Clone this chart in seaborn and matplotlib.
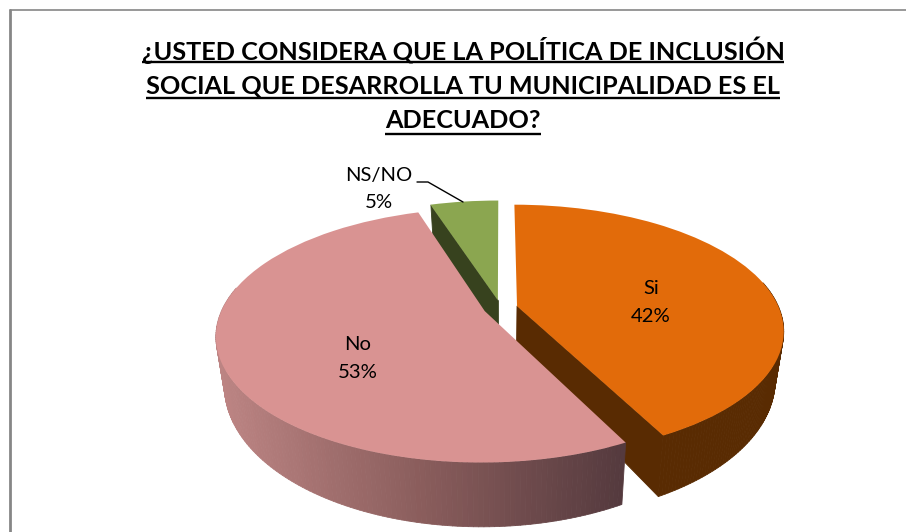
import numpy as np
import matplotlib
matplotlib.use("Agg")
import matplotlib.pyplot as plt
from matplotlib.collections import PolyCollection
from matplotlib.transforms import Transform
import seaborn as sns

categories = ["Si", "No", "NS/NO"]
shares = [42.49, 52.51, 5.0]
title_lines = ["¿USTED CONSIDERA QUE LA POLÍTICA DE INCLUSIÓN",
               "SOCIAL QUE DESARROLLA TU MUNICIPALIDAD ES EL",
               "ADECUADO?"]

top_colors = ["#E26B0A", "#D99392", "#8BA650"]
wall_colors = ["#592B02", None, "#37421E"]
gradient = ["#BD8584", "#8A5D5C", "#553A3E"]

sns.set_theme(style="white")
plt.rcParams["font.family"] = ["Lato", "DejaVu Sans"]

# view of the tilted disc: unit pie coordinates -> pixels
CX, CY, BX, AY, K = 500.5, 308.0, 262.0, 121.4, 0.19


class Tilt(Transform):
    input_dims = output_dims = 2
    is_separable = False
    has_inverse = False

    def transform_non_affine(self, values):
        v = np.asarray(values, float)
        s = 1.0 / (1.0 + K * v[:, 1])
        return np.column_stack((CX + BX * v[:, 0] * s, CY - AY * v[:, 1] * s))


tilt = Tilt()


def drop(p):
    """Lower face of the disc for points of the upper face (pixels)."""
    p = np.asarray(p, float)
    dz = 61 + (p[:, 1] - 435) * 0.12
    return np.column_stack((500 + (p[:, 0] - 500) * 0.97, p[:, 1] + dz))


fig = plt.figure(figsize=(9.06, 5.32), dpi=100, facecolor="white")
ax = fig.add_axes([0, 0, 1, 1])

wedges, _ = ax.pie(shares, explode=[0.065] * 3, startangle=90, counterclock=False,
                   colors=top_colors, wedgeprops=dict(linewidth=0))
ax.set_aspect("auto")
ax.set_xlim(0, 906)
ax.set_ylim(532, 0)
ax.axis("off")

order = {"NS/NO": 0, "Si": 1, "No": 2}
for w, name, wall in zip(wedges, categories, wall_colors):
    base = order[name] * 2 + 1
    w.set_transform(tilt + ax.transData)
    w.set_zorder(base + 1)
    th = np.radians(np.linspace(w.theta1, w.theta2, 200))
    cx, cy = w.center
    rim = tilt.transform_non_affine(np.column_stack((cx + np.cos(th), cy + np.sin(th))))
    apex = tilt.transform_non_affine(np.array([[cx, cy]]))
    rim_b, apex_b = drop(rim), drop(apex)
    quads = [[rim[i], rim[i + 1], rim_b[i + 1], rim_b[i]]
             for i in range(len(rim) - 1) if np.sin(th[i]) < 0.2]
    if wall is None:
        pal = sns.blend_palette(gradient, 200)
        xs = [(q[0][0] + q[1][0]) / 2 for q in quads]
        idx = [int(np.clip((x - 215) / (624 - 215), 0, 1) * 199) for x in xs]
        cols = [pal[i] for i in idx]
    else:
        if np.sin(th[0] - np.pi / 2) < -1e-6:
            quads.append([apex[0], rim[0], rim_b[0], apex_b[0]])
        if np.sin(th[-1] + np.pi / 2) < -1e-6:
            quads.append([apex[0], rim[-1], rim_b[-1], apex_b[0]])
        cols = [wall] * len(quads)
    ax.add_collection(PolyCollection(quads, facecolors=cols, edgecolors=cols,
                                     linewidths=0.6, zorder=base))

# chart frame
ax.plot([10, 906], [10, 10], color="#868686", lw=1.2, zorder=20, clip_on=False)
ax.plot([10, 10], [10, 532], color="#868686", lw=2, zorder=20, clip_on=False)

# title with underline
fig.canvas.draw()
rend = fig.canvas.get_renderer()
for line, yc, yu in zip(title_lines, [50, 86, 120], [62, 97.5, 133.5]):
    t = ax.text(463, yc, line, ha="center", va="center", fontsize=18.15,
                fontweight="bold", color="black", zorder=21)
    bb = t.get_window_extent(rend)
    ax.plot([bb.x0, bb.x1], [yu, yu], color="black", lw=1.7, zorder=21,
            solid_capstyle="butt")

# labels
label_xy = {"Si": (651, 302), "No": (358, 358), "NS/NO": (379, 189)}
for name, share in zip(categories, shares):
    x, y = label_xy[name]
    ax.text(x, y - 14, name, ha="center", va="center", fontsize=14.6, color="black", zorder=22)
    ax.text(x, y + 14, f"{round(share)}%", ha="center", va="center", fontsize=14.6,
            color="black", zorder=22)
ax.plot([417, 428, 463], [182, 182, 202], color="black", lw=1.0, zorder=22)

fig.savefig("out.png", dpi=100, facecolor="white")
